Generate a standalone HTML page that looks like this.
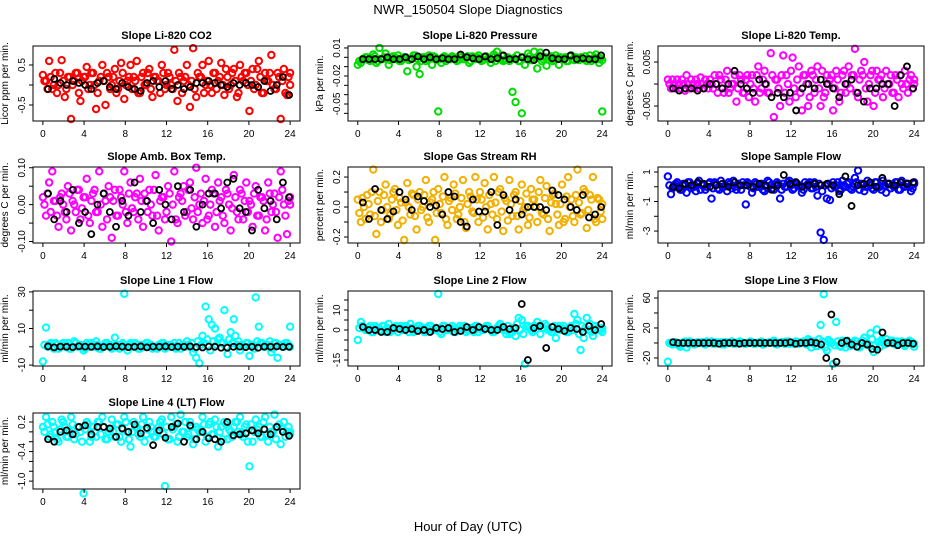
<!DOCTYPE html>
<html><head><meta charset="utf-8"><title>NWR_150504 Slope Diagnostics</title>
<style>
html,body{margin:0;padding:0;background:#fff;}
svg{display:block;font-family:"Liberation Sans",sans-serif;}
</style></head>
<body>
<svg id="chart" width="936" height="540" viewBox="0 0 936 540" xmlns="http://www.w3.org/2000/svg">
<text x="468" y="14" text-anchor="middle" font-size="13">NWR_150504  Slope Diagnostics</text>
<text x="468" y="531" text-anchor="middle" font-size="13">Hour of Day (UTC)</text>
</svg>
<script>
// ---- data arrays ----
const xTicks = [0,4,8,12,16,20,24];
const titles = ["Slope Li-820 CO2","Slope Li-820 Pressure","Slope Li-820 Temp.","Slope Amb. Box Temp.","Slope Gas Stream RH","Slope Sample Flow","Slope Line 1 Flow","Slope Line 2 Flow","Slope Line 3 Flow","Slope Line 4 (LT) Flow"];
const yLabels = ["Licor ppm per min.","kPa per min.","degrees C per min.","degrees C per min.","percent per min.","ml/min per min.","ml/min per min.","ml/min per min.","ml/min per min.","ml/min per min."];
const yTicks = [[-0.5,0,0.5],[0.01,0,-0.01,-0.02,-0.03,-0.04,-0.05,-0.06],[-0.005,0,0.005],[-0.1,-0.05,0,0.05,0.1],[-0.2,-0.1,0,0.1,0.2],[-3,-2,-1,0,1],[-10,0,10,20,30],[-15,-10,-5,0,5,10,15],[-20,0,20,40,60],[-1.0,-0.8,-0.6,-0.4,-0.2,0,0.2]];
const yTickLabels = [[["-0.5",-0.5],["0.5",0.5]],[["0.01",0.01],["-0.02",-0.02],["-0.05",-0.05]],[["-0.005",-0.005],["0.005",0.005]],[["-0.10",-0.1],["0.00",0],["0.10",0.1]],[["-0.2",-0.2],["0.0",0],["0.2",0.2]],[["-3",-3],["-1",-1],["1",1]],[["-10",-10],["10",10],["30",30]],[["-15",-15],["0",0],["10",10]],[["-20",-20],["20",20],["60",60]],[["-1.0",-1.0],["-0.4",-0.4],["0.2",0.2]]];
const yDomains = [[-0.9,0.975],[-0.0682,0.0121],[-0.0084,0.00864],[-0.104,0.102],[-0.24,0.267],[-3.81,1.34],[-10.5,30.5],[-18,19.5],[-30.7,69.3],[-1.16,0.383]];
const seriesColors = ["#ff0000","#00dd00","#ff00ff","#ff00ff","#f2b000","#0000ff","#00ffff","#00ffff","#00ffff","#00ffff"];

const co2 = [0.25,0.1,0.6,-0.1,0.3,0.0,0.62,-0.3,0.2,-0.85,0.1,0.3,-0.4,0.2,0.45,0.0,0.3,-0.6,0.1,0.5,-0.5,0.2,0.0,0.4,-0.1,0.55,-0.35,0.1,0.5,0.2,0.6,-0.2,0.3,0.0,0.4,-0.3,0.2,0.1,0.5,-0.1,0.3,0.0,0.88,-0.4,0.2,0.1,0.5,-0.55,0.92,-0.3,0.2,0.5,0.0,0.6,-0.2,0.3,0.1,0.55,-0.25,0.2,0.0,0.4,-0.3,0.5,0.1,0.3,-0.65,0.4,0.0,0.6,-0.2,0.3,0.1,0.75,-0.1,0.3,-0.85,0.4,-0.25,0.3];
const co2B = [0.1,-0.1,0.2,0.0,-0.2,0.3,0.1,-0.1,0.2,0.0,0.3,-0.2,0.1,0.2,-0.1,0.3,0.0,-0.2,0.2,0.1,0.3,-0.1,0.2,-0.2,0.1,0.3,0.0,0.2,-0.1,0.1,-0.2,0.2,0.0,0.3,-0.1,0.2,0.1,-0.2,0.3,0.0,0.2,-0.1,0.1,0.3,-0.2,0.2,0.0,0.1,-0.1,0.3,0.2,-0.2,0.1,0.0,0.3,-0.1,0.2,0.0,0.4,-0.1,0.3,0.1,-0.2,0.2,0.3,0.0,0.1,-0.1,0.4,0.2,-0.2,0.1,0.3,0.0,-0.1,0.2,0.1,-0.2,0.2,0.0];
const co2Black = [-0.1,0.15,0.05,0.0,0.1,0.05,0.0,-0.1,0.05,0.1,-0.05,-0.1,0.05,-0.05,-0.1,-0.15,0.05,0.1,-0.05,0.1,-0.1,0.0,-0.1,-0.05,0.05,0.05,0.1,0.05,0.0,-0.05,0.05,0.0,0.05,0.0,-0.05,0.1,-0.15,0.0,0.2,-0.25];
const pres = [-0.008,-0.006,-0.002,0.0,-0.004,0.003,-0.006,0.01,-0.002,0.004,-0.008,0.0,-0.002,0.002,-0.004,0.0,-0.015,-0.002,0.002,-0.01,-0.018,0.0,-0.004,0.002,-0.008,0.0,-0.058,-0.006,0.001,-0.002,-0.002,0.0,-0.004,0.002,-0.002,0.0,-0.006,0.001,-0.002,0.002,-0.004,0.0,-0.002,-0.006,0.003,0.006,-0.002,-0.004,-0.002,-0.004,-0.037,-0.048,-0.004,-0.06,-0.008,0.004,-0.003,0.006,-0.012,0.005,-0.002,-0.009,0.0,-0.004,0.002,-0.008,-0.002,0.0,-0.004,0.002,-0.003,-0.001,0.0,-0.002,-0.004,0.002,-0.002,0.003,-0.006,-0.058];
const presB = [-0.004,-0.002,0.0,-0.003,-0.001,0.001,-0.004,-0.002,0.0,-0.002,-0.003,0.001,-0.001,-0.004,-0.002,0.0,-0.003,-0.001,0.002,-0.002,-0.004,0.0,-0.002,-0.001,0.001,-0.003,-0.002,0.0,-0.004,-0.001,0.001,-0.002,-0.003,0.0,-0.002,0.001,-0.004,-0.001,0.0,-0.002,-0.003,0.001,-0.002,0.0,-0.004,-0.001,0.002,-0.003,0.0,-0.002,-0.001,0.002,-0.004,0.0,-0.002,0.001,-0.003,-0.001,0.002,-0.004,0.0,-0.002,0.001,-0.003,-0.001,0.0,-0.002,-0.004,0.001,-0.002,0.0,-0.003,-0.001,0.001,-0.002,-0.004,0.0,-0.002,-0.001,-0.003];
const presBlack = [-0.002,-0.002,-0.002,-0.002,0.0,-0.002,-0.002,0.0,-0.002,0.001,-0.002,0.0,-0.002,-0.001,-0.002,-0.002,0.003,0.0,-0.001,-0.002,0.001,-0.002,-0.001,0.002,-0.002,-0.002,0.0,-0.002,-0.003,0.001,0.005,-0.001,-0.002,-0.002,0.002,-0.002,-0.001,-0.002,-0.002,0.002];
const temp = [0.001,-0.001,0.0,0.001,-0.001,0.0,0.002,-0.001,0.0,0.001,-0.001,0.0,0.001,-0.001,0.0,0.002,-0.002,0.001,-0.002,0.003,-0.001,0.0,-0.004,0.002,-0.002,0.001,-0.003,0.002,-0.004,0.004,-0.001,0.003,-0.002,0.007,-0.0075,0.001,-0.005,0.0065,0.002,-0.004,0.006,-0.003,0.004,-0.006,0.002,-0.005,0.003,-0.002,0.004,-0.005,-0.003,0.002,0.001,-0.006,0.003,-0.004,0.002,-0.002,0.004,0.002,0.008,-0.003,0.003,0.005,-0.004,0.002,-0.005,0.003,0.001,-0.003,0.003,0.0,-0.002,0.002,-0.003,0.0,0.003,-0.002,0.002,0.0];
const tempB = [0.0,0.001,-0.001,0.0,0.001,-0.0015,0.0,0.001,-0.001,0.0,0.0015,-0.001,0.0,0.001,-0.001,0.0,0.002,-0.001,0.001,-0.002,0.0,0.002,-0.001,0.001,-0.002,0.002,0.0,-0.001,0.002,-0.002,0.001,0.0,-0.002,0.002,0.001,-0.001,0.002,-0.002,0.0,0.003,-0.001,0.001,-0.002,0.002,0.0,-0.003,0.002,0.001,-0.001,0.003,-0.002,0.0,0.002,-0.001,0.001,-0.002,0.003,0.0,-0.001,0.002,-0.002,0.001,0.002,-0.001,0.0,0.003,-0.002,0.001,0.002,-0.001,0.0,0.002,-0.002,0.001,0.002,-0.001,0.0,0.001,-0.001,0.001];
const tempBlack = [-0.001,-0.0015,-0.001,-0.001,-0.0015,-0.001,0.0,0.0,-0.001,0.0,0.003,0.0,-0.001,-0.002,0.001,0.0,-0.003,-0.002,-0.003,-0.002,-0.006,-0.001,0.0,-0.001,0.001,0.0,-0.001,-0.003,0.0,0.001,-0.002,-0.004,-0.001,-0.001,0.0,0.0,-0.005,0.002,0.004,-0.001];
const amb = [0.02,-0.03,0.06,0.09,0.01,-0.06,0.03,-0.02,0.05,-0.07,0.0,0.04,-0.04,0.02,0.07,-0.05,0.03,-0.02,0.09,-0.06,0.01,0.05,-0.09,0.04,-0.03,0.02,0.09,-0.05,0.06,-0.02,0.03,0.07,-0.06,0.01,0.04,-0.03,0.08,-0.07,0.02,-0.04,0.05,-0.1,0.09,-0.05,0.03,0.05,-0.02,0.06,-0.04,0.1,0.0,-0.05,0.07,-0.03,0.04,-0.06,0.06,0.02,-0.05,0.03,-0.07,0.08,-0.02,0.04,-0.04,0.06,0.01,-0.06,0.05,-0.03,0.02,-0.07,0.06,-0.02,0.03,-0.09,0.09,0.0,-0.08,0.02];
const ambB = [0.0,0.03,-0.02,0.01,-0.03,0.02,0.0,-0.04,0.03,0.01,-0.02,0.04,-0.01,0.02,-0.03,0.01,0.04,-0.02,0.0,0.03,-0.04,0.02,0.01,-0.03,0.04,0.0,-0.02,0.03,-0.01,0.02,-0.04,0.01,0.03,-0.02,0.0,0.04,-0.03,0.01,0.02,-0.02,0.03,0.0,-0.04,0.02,0.01,-0.03,0.04,-0.01,0.02,-0.02,0.03,0.01,-0.04,0.0,0.03,-0.02,0.01,-0.03,0.04,0.0,-0.01,0.02,-0.04,0.03,0.01,-0.02,0.0,0.03,-0.03,0.02,0.01,-0.04,0.03,0.0,-0.02,0.02,0.04,-0.03,0.01,0.0];
const ambBlack = [0.03,-0.04,0.01,-0.02,0.04,-0.05,-0.02,-0.08,0.0,0.03,-0.02,-0.06,0.01,-0.03,0.06,-0.02,0.01,-0.05,0.04,0.0,-0.04,0.05,-0.02,0.04,-0.06,0.0,0.03,0.03,-0.01,0.06,0.07,-0.01,-0.02,-0.07,0.04,-0.01,0.01,-0.04,0.06,0.02];
const rh = [0.05,-0.1,0.0,0.08,-0.05,0.25,-0.18,0.1,-0.02,0.15,-0.08,0.05,0.12,-0.12,0.03,-0.22,0.16,-0.05,0.08,-0.15,0.1,0.0,0.18,-0.1,0.05,-0.22,0.12,-0.04,0.2,-0.12,0.06,0.15,-0.08,0.0,0.18,-0.14,0.1,-0.03,0.2,-0.1,0.05,0.16,-0.15,0.02,0.2,-0.08,0.12,-0.16,0.04,0.18,-0.06,0.1,-0.15,0.15,0.0,-0.12,0.12,0.05,-0.1,0.18,-0.05,0.14,-0.16,0.08,0.02,-0.12,0.15,-0.08,0.2,0.05,-0.1,0.25,-0.05,0.12,-0.14,0.08,0.2,-0.1,0.05,-0.08];
const rhB = [-0.04,0.06,-0.08,0.02,0.1,-0.06,0.04,-0.1,0.08,0.0,-0.05,0.1,-0.02,0.06,-0.09,0.03,0.0,0.09,-0.06,0.05,-0.02,0.08,-0.07,0.03,0.1,-0.04,0.02,0.07,-0.08,0.04,-0.02,0.09,-0.05,0.06,-0.1,0.02,0.07,-0.04,0.05,0.1,-0.07,0.0,0.08,-0.05,0.03,0.1,-0.03,0.06,-0.09,0.02,0.08,-0.06,0.04,-0.02,0.09,-0.07,0.05,0.0,0.1,-0.04,0.06,-0.08,0.03,0.09,-0.05,0.02,-0.1,0.07,0.0,-0.06,0.08,0.03,-0.04,0.1,-0.02,0.05,-0.08,0.06,-0.03,0.02];
const rhBlack = [0.03,-0.08,0.12,-0.02,-0.08,-0.03,0.1,0.05,-0.02,0.07,0.04,0.0,0.01,-0.05,0.1,0.07,-0.1,-0.13,0.05,-0.03,-0.03,0.1,-0.12,0.08,-0.02,0.05,-0.05,0.0,0.0,0.0,-0.02,0.11,0.08,0.05,0.0,-0.02,0.08,-0.07,-0.05,0.0];
const sflow = [0.7,-0.5,0.1,0.3,-0.2,0.2,-0.4,0.3,0.0,-0.3,0.4,0.1,-0.2,0.2,-0.8,0.3,-0.1,0.4,0.0,-0.3,0.2,0.4,-0.2,0.1,0.3,-1.2,0.2,-0.4,0.3,0.0,0.2,-0.3,0.4,0.1,-0.2,0.3,-0.8,0.2,0.0,0.4,-0.2,0.3,0.1,-0.4,0.3,0.2,-0.1,0.3,-0.6,-3.1,-3.6,-0.8,-0.9,0.3,0.1,-0.3,0.4,0.0,0.3,-0.2,0.6,1.1,0.2,-0.3,0.4,0.1,-0.2,0.3,0.0,0.4,-0.4,0.2,0.1,0.3,-0.2,0.4,0.0,0.2,-0.3,0.3];
const sflowB = [0.1,-0.1,0.2,0.0,-0.2,0.1,0.3,-0.1,0.0,0.2,-0.2,0.1,0.0,0.3,-0.1,0.2,-0.2,0.0,0.1,0.3,-0.1,0.0,0.2,-0.2,0.1,0.3,0.0,-0.1,0.2,0.1,-0.2,0.0,0.3,-0.1,0.1,0.2,-0.2,0.0,0.3,0.1,-0.1,0.2,0.0,-0.2,0.1,0.3,-0.1,0.0,0.2,-0.3,0.1,0.2,-0.1,0.0,0.3,-0.2,0.1,0.2,-0.1,0.0,0.3,-0.2,0.1,0.0,0.2,-0.1,0.3,0.0,-0.2,0.1,0.2,-0.1,0.0,0.3,-0.2,0.1,0.2,0.0,-0.1,0.2];
const sflowBlack = [0.0,-0.1,0.2,0.1,0.3,0.2,0.0,0.1,0.2,0.0,0.3,0.1,0.1,0.0,0.2,0.1,-0.2,0.1,0.8,0.2,0.3,0.0,0.1,0.2,0.1,0.2,0.1,-0.5,0.7,-1.3,0.1,0.2,0.3,0.0,0.6,0.2,0.1,0.3,0.2,0.3];
const line1 = [-8,10.5,1,0,2,-1,1,0,2,-1,3,0,1,-2,2,0,1,3,-1,0,2,1,-1,5,0,1,29,-2,2,0,1,-1,0,2,1,-1,0,1,2,-1,0,1,2,0,-1,1,3,0,-3,-6,-9,6,22,15,12,10,4,2,20,-4,8,15,1,-2,0,2,-5,1,27,11,2,0,1,-3,2,-6,1,0,2,11];
const line1B = [1,0,2,-1,1,0,2,1,-1,0,2,1,0,-1,1,2,0,1,-1,0,2,1,0,1,-1,2,0,1,0,2,-1,1,0,2,1,0,-1,1,2,0,1,0,-1,2,1,0,1,2,-1,3,1,2,4,-2,3,1,5,2,0,4,2,6,3,1,0,2,1,-1,3,2,0,1,3,-1,2,1,0,2,1,0];
const line1Black = [0.2,-0.3,0.1,0.0,-0.2,0.3,0.1,0.0,0.2,-0.1,0.0,0.3,0.1,-0.2,0.0,0.2,-0.3,0.1,0.0,0.2,-0.1,0.1,0.0,0.2,-0.2,-0.4,0.1,0.0,-0.5,-0.5,0.0,0.1,-0.2,0.0,-0.5,0.1,0.0,0.2,-0.1,0.0];
const line2 = [-5,4,1,0,2,-1,1,0,2,-1,3,0,1,-1,2,0,1,3,-1,0,2,1,-1,2,0,1,18,-2,2,0,1,-1,0,2,1,-1,0,1,2,-1,0,1,2,0,-1,1,3,0,-2,-2,-1,-3,6,5,-17,2,0,2,4,-2,1,2,0,-1,-4,2,1,0,-1,2,8,5,-10,-4,6,3,-3,2,0,-1];
const line2B = [1,2,0,1,-1,2,1,0,2,1,-1,0,2,1,0,2,-1,1,0,2,1,-1,1,2,0,1,-1,2,0,1,2,-1,0,1,2,0,1,-1,2,1,0,2,1,-1,0,2,1,0,2,-1,1,3,0,-2,2,1,-1,0,2,1,3,0,-1,2,1,0,2,-1,1,0,3,-2,2,1,0,-1,2,1,0,1];
const line2Black = [1.5,0,0,-1,-1,1,0.5,0,0.5,-0.5,0,-1,1,0.5,1,-1,-0.5,1.5,0,1.5,0.5,0,0,1.5,0.5,1,13,-15,1,2,-9,1.5,0.5,-0.5,1,0.5,-1,2,0,3];
const line3 = [-25,0,1,-2,-5,0,-6,2,0,-1,0,1,-2,0,2,-1,0,1,-2,0,1,-1,0,2,0,-1,0,1,-1,0,2,-1,0,1,3,-2,0,1,2,-1,0,2,-1,1,0,5,-6,2,-4,24,65,-10,2,-28,28,-4,3,-6,1,-2,3,-5,0,7,-3,13,-12,18,-5,2,5,0,3,-2,1,2,-4,0,1,-5];
const line3B = [0,-2,1,-3,0,2,-1,0,-2,1,0,-1,2,0,-1,1,0,-2,1,0,2,-1,0,1,-1,0,2,-1,0,1,-2,0,1,2,-1,0,1,-1,2,0,-1,1,0,2,-2,3,0,-4,5,2,-6,4,0,-3,2,-5,1,3,-4,0,2,-6,3,0,-2,5,-3,1,4,-2,0,3,-1,2,0,-2,1,3,0,-1];
const line3Black = [1,0,0,0,0,0,0,0,0,-1,0,0,0,-1,0,0,0,0,0,0,0,0,0,1,-1,0,0,1,0,-2,-20,38,-25,0,3,-2,-5,0,-2,-8,-9,14,0,0,-3,0,0,-1];
const line4 = [0.1,0.3,-0.1,0.2,0.0,-0.2,0.25,0.1,-0.1,0.3,-0.15,0.1,0.0,-1.25,0.2,-0.2,0.1,-0.1,0.2,0.3,-0.15,0.0,0.25,-0.1,0.15,-0.2,0.3,0.0,-0.3,0.2,0.1,-0.1,0.3,-0.05,0.2,0.0,-0.1,0.1,0.25,-1.1,-0.15,0.3,0.1,-0.2,0.35,0.0,-0.1,0.2,-0.25,0.1,0.0,0.3,-0.2,0.15,-0.05,0.25,-0.3,0.1,0.2,-0.15,0.0,0.1,0.2,0.3,-0.1,0.15,-0.7,-0.2,0.25,0.1,-0.1,0.3,-0.2,0.0,0.35,0.1,-0.25,0.2,0.0,-0.05];
const line4B = [0.0,0.15,-0.05,0.1,-0.15,0.05,0.2,-0.1,0.0,0.15,-0.05,0.1,-0.2,0.05,0.15,-0.1,0.0,0.2,-0.05,0.1,-0.15,0.05,0.0,0.15,-0.1,0.05,0.2,-0.15,0.0,0.1,-0.05,0.15,-0.2,0.05,0.1,-0.1,0.0,0.2,-0.05,0.1,-0.15,0.05,0.15,-0.1,0.0,0.2,-0.05,0.1,-0.15,0.05,0.0,0.15,-0.1,0.2,-0.05,0.1,0.0,-0.15,0.15,0.05,-0.1,0.2,0.0,-0.05,0.1,-0.2,0.15,0.0,0.05,-0.1,0.2,-0.05,0.1,0.0,-0.15,0.15,0.05,-0.1,0.1,0.0];
const line4Black = [-0.15,-0.2,0.0,0.03,-0.05,0.1,0.13,-0.05,0.1,0.1,0.07,-0.1,0.07,0.0,0.15,-0.03,0.08,-0.27,0.03,-0.12,0.1,0.17,-0.2,0.13,-0.15,0.0,-0.13,-0.15,-0.2,0.2,-0.07,-0.05,-0.03,0.03,-0.03,0.05,-0.05,0.1,0.0,-0.08];

const coloredSeries = [co2,pres,temp,amb,rh,sflow,line1,line2,line3,line4];
const coloredSeriesB = [co2B,presB,tempB,ambB,rhB,sflowB,line1B,line2B,line3B,line4B];
const blackSeries = [co2Black,presBlack,tempBlack,ambBlack,rhBlack,sflowBlack,line1Black,line2Black,line3Black,line4Black];

// ---- layout ----
const rowsPx = [[46,121],[167,243],[291,366],[413,489]];
const colsPx = [[33,300],[348,612],[658,924]];
const NS = "http://www.w3.org/2000/svg";
const svg = document.getElementById("chart");
function mk(tag, attrs, parent){const e=document.createElementNS(NS,tag);for(const k in attrs)e.setAttribute(k,attrs[k]);(parent||svg).appendChild(e);return e;}
function slug(s){return s.toLowerCase().replace(/[^a-z0-9]+/g,'-').replace(/^-|-$/g,'');}

titles.forEach((title, p) => {
  const row = Math.floor(p/3), col = p%3;
  const [top,bot] = rowsPx[row], [left,right] = colsPx[col];
  const xs = v => left + (v + 0.96) / 25.92 * (right - left);
  const [ymin,ymax] = yDomains[p];
  const ys = v => bot - (v - ymin) / (ymax - ymin) * (bot - top);
  const name = slug(title);
  const g = mk("g", {});
  
  

  const t = mk("text", {x:(left+right)/2, y:top-7, "text-anchor":"middle", "font-size":"11", "font-weight":"bold"}, g);
  t.textContent = title;
  
  

  const cy = (top+bot)/2;
  const yl = mk("text", {x:left-25, y:cy, transform:`rotate(-90 ${left-25} ${cy})`, "text-anchor":"middle", "font-size":"10"}, g);
  yl.textContent = yLabels[p];
  
  

  // colored points (two sampling passes)
  [[coloredSeries[p],0],[coloredSeriesB[p],0.15]].forEach(([cs,off]) => {
    const nC = cs.length;
    cs.forEach((v,i) => {
      const c = mk("circle", {cx:xs(Math.min(24, i*24/(nC-1) + off)), cy:ys(v), r:3.2, fill:"none", stroke:seriesColors[p], "stroke-width":2}, g);
      
      
    });
  });
  const bs = blackSeries[p], nB = bs.length;
  bs.forEach((v,i) => {
    const c = mk("circle", {cx:xs(0.5 + i*23.4/(nB-1)), cy:ys(v), r:3, fill:"none", stroke:"#000", "stroke-width":1.8}, g);
    
    
  });

  const box = mk("rect", {x:left, y:top, width:right-left, height:bot-top, fill:"none", stroke:"#000", "stroke-width":1}, g);
  
  

  xTicks.forEach(v => {
    const x = xs(v);
    const l = mk("line", {x1:x, x2:x, y1:bot, y2:bot+4, stroke:"#000"}, g);
    
    
    const tx = mk("text", {x:x, y:bot+16, "text-anchor":"middle", "font-size":"10"}, g);
    tx.textContent = String(v);
    
    
  });
  yTicks[p].forEach(v => {
    const y = ys(v);
    const l = mk("line", {x1:left-4, x2:left, y1:y, y2:y, stroke:"#000"}, g);
    
    
  });
  yTickLabels[p].forEach(([lab,v]) => {
    const y = ys(v), x = left-8;
    const tx = mk("text", {x:x, y:y, transform:`rotate(-90 ${x} ${y})`, "text-anchor":"middle", "font-size":"10"}, g);
    tx.textContent = lab;
    
    
  });
});
</script>
</body></html>
